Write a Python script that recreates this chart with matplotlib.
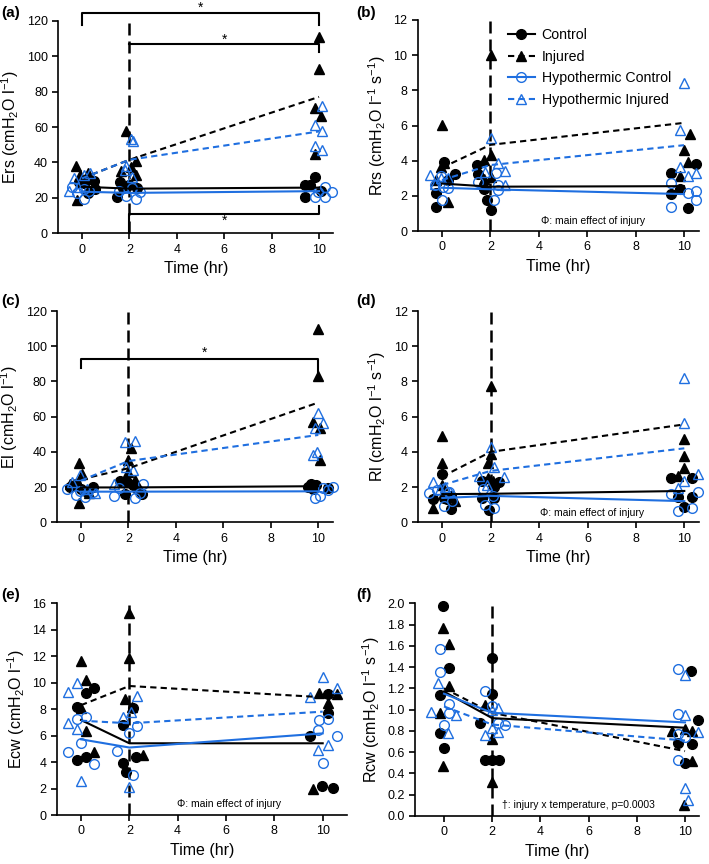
import matplotlib
matplotlib.use('Agg')
from matplotlib import pyplot as plt
from matplotlib.lines import Line2D
from matplotlib.ticker import FormatStrFormatter

plt.rcParams['font.family'] = ['Liberation Sans', 'DejaVu Sans']
plt.rcParams['mathtext.default'] = 'regular'

BLUE = '#1f6fe0'
times = [0, 2, 10]
group_names = ['Control', 'Injured', 'Hypothermic Control', 'Hypothermic Injured']

# ---- (a) Ers ----
ers_c_x = [-0.14, 0.07, 0.24, 0.52, 0.56, 1.46, 1.6, 1.75, 1.97, 2.32, 9.41, 9.41, 9.62, 9.83, 10.07]
ers_c_y = [29, 28.5, 22.5, 29.5, 25, 20.7, 29, 25.4, 27.3, 25.4, 27.3, 20.7, 27.3, 32, 24]
ers_c_mean = [26.3, 25.2, 25.8]
ers_i_x = [-0.24, -0.07, 0.24, -0.2, 0.1, 1.87, 1.64, 2.06, 2.29, 2.29, 10.0, 10.0, 9.83, 10.07, 9.83]
ers_i_y = [38, 33, 34, 19, 30, 57.5, 35.4, 37.6, 41, 33, 111, 92.5, 70.5, 66, 44.8]
ers_i_mean = [31, 41.5, 77]
ers_hc_x = [-0.42, -0.2, 0.07, 0.3, 0.1, 1.55, 1.85, 2.1, 2.29, 2.46, 9.83, 9.95, 10.25, 10.25, 10.53]
ers_hc_y = [26, 23, 19.5, 24, 25, 24, 21, 25.4, 19.4, 23.5, 20.7, 23.5, 26.3, 20.7, 23.5]
ers_hc_mean = [23.5, 22.8, 23.8]
ers_hi_x = [-0.55, -0.35, -0.15, 0.1, 0.35, 2.08, 2.15, 1.87, 1.83, 2.1, 10.11, 9.83, 10.11, 9.83, 10.11]
ers_hi_y = [24, 31, 26, 33, 34, 53, 52, 38, 36, 32, 72, 61, 57.5, 49.5, 47]
ers_hi_mean = [31, 41.5, 57.5]

# ---- (b) Rrs ----
rrs_c_x = [-0.23, -0.23, 0.08, 0.25, 0.52, 1.46, 1.49, 1.74, 1.87, 2.01, 9.48, 9.48, 9.82, 10.17, 10.51]
rrs_c_y = [1.35, 2.15, 3.9, 2.9, 3.25, 3.75, 3.22, 2.4, 1.76, 1.2, 3.28, 2.08, 2.37, 1.33, 3.8]
rrs_c_mean = [2.7, 2.52, 2.55]
rrs_i_x = [0.0, -0.23, 0.25, -0.05, 0.1, 2.01, 2.01, 1.74, 1.74, 2.01, 10.23, 10.0, 10.17, 9.82]
rrs_i_y = [6.05, 2.9, 1.67, 3.66, 3.85, 10.0, 4.3, 4.04, 2.95, 3.05, 5.5, 4.6, 3.9, 3.15]
rrs_i_mean = [3.6, 4.9, 6.15]
rrs_hc_x = [-0.3, -0.05, 0.05, 0.25, 0.02, 1.49, 2.25, 2.32, 2.15, 2.3, 9.48, 9.48, 10.17, 10.51, 10.51]
rrs_hc_y = [2.6, 3.1, 2.5, 2.43, 1.76, 2.8, 3.28, 2.33, 1.76, 2.6, 2.75, 1.35, 2.18, 2.3, 1.76]
rrs_hc_mean = [2.46, 2.37, 2.1]
rrs_hi_x = [-0.5, -0.3, -0.05, 0.25, 1.76, 2.01, 2.32, 2.59, 2.59, 10.0, 9.82, 9.82, 10.17, 10.51]
rrs_hi_y = [3.18, 2.7, 3.0, 3.0, 3.37, 5.27, 3.89, 3.43, 2.62, 8.4, 5.74, 3.66, 3.1, 3.28]
rrs_hi_mean = [2.9, 3.75, 4.88]

# ---- (c) El ----
el_c_x = [-0.46, -0.2, 0.0, 0.27, 0.49, 1.64, 1.85, 2.2, 2.35, 2.56, 1.95, 9.58, 9.79, 9.9, 9.7, 10.42]
el_c_y = [20.3, 21.6, 19, 17.4, 20.3, 23.5, 15.9, 21.2, 19, 15.9, 23, 20.3, 19, 21.2, 21.8, 19.3]
el_c_mean = [19.8, 19.8, 20.5]
el_i_x = [-0.07, 0.05, -0.07, -0.46, 0.35, 2.1, 1.97, 1.97, 2.27, 10.0, 10.0, 9.76, 10.07, 10.07]
el_i_y = [33.5, 27.3, 10.8, 21.6, 16.5, 42, 35.4, 28.8, 24, 109.8, 83.3, 56.8, 53.8, 35.4]
el_i_mean = [24.4, 30.7, 68]
el_hc_x = [-0.6, -0.21, 0.17, 0.52, -0.05, 1.4, 1.6, 2.27, 2.48, 2.62, 9.86, 10.07, 10.21, 10.63, 10.42]
el_hc_y = [19, 15.5, 14.6, 17.4, 17.8, 15.1, 19.7, 13.6, 16.5, 22, 13.6, 15.1, 19.3, 20.3, 18.4]
el_hc_mean = [17.4, 17.4, 17.6]
el_hi_x = [-0.39, -0.05, 0.27, 0.59, 1.85, 2.27, 1.38, 1.9, 2.2, 10.0, 9.76, 9.93, 9.86, 10.21]
el_hi_y = [23, 26.9, 19, 16.5, 45.8, 46.2, 22, 31.6, 29.7, 61.9, 38.2, 40.1, 53.4, 56.2]
el_hi_mean = [23.7, 34.8, 49.6]

# ---- (d) Rl ----
rl_c_x = [-0.37, 0.0, 0.05, 0.2, 0.35, 0.38, 1.62, 1.65, 1.93, 2.15, 2.15, 2.34, 9.45, 9.72, 10.0, 10.3, 10.3]
rl_c_y = [1.33, 2.75, 1.4, 1.35, 1.5, 0.75, 2.35, 1.36, 0.7, 2.03, 1.36, 2.3, 2.54, 1.46, 0.89, 2.54, 1.46]
rl_c_mean = [1.6, 1.62, 1.78]
rl_i_x = [0.0, 0.0, 0.0, -0.37, 0.52, 2.01, 2.01, 1.9, 1.88, 2.1, 10.0, 10.0, 10.0, 9.72]
rl_i_y = [4.92, 3.35, 2.12, 0.8, 1.2, 7.74, 3.86, 3.35, 2.5, 2.35, 4.73, 3.79, 3.1, 2.65]
rl_i_mean = [2.6, 4.0, 5.56]
rl_hc_x = [-0.55, -0.2, 0.05, 0.28, 0.4, 1.7, 1.75, 2.15, 2.1, 9.45, 9.72, 10.3, 10.58]
rl_hc_y = [1.65, 1.84, 0.9, 1.7, 1.2, 1.9, 0.98, 0.83, 1.5, 1.59, 0.64, 0.83, 1.74]
rl_hc_mean = [1.38, 1.5, 1.2]
rl_hi_x = [-0.37, -0.1, 0.3, 0.1, 2.01, 1.5, 1.85, 2.15, 2.57, 10.0, 10.0, 9.72, 10.0, 10.55]
rl_hi_y = [2.27, 1.9, 1.74, 2.0, 4.3, 2.65, 2.12, 3.16, 2.6, 8.18, 5.62, 1.97, 2.35, 2.73]
rl_hi_mean = [2.12, 2.92, 4.2]

# ---- (e) Ecw ----
ecw_c_x = [-0.18, 0.21, -0.15, 0.21, 0.55, 1.75, 1.86, 1.75, 2.17, 2.28, 9.48, 9.96, 10.41, 10.23, 10.23]
ecw_c_y = [4.16, 4.36, 8.14, 9.25, 9.57, 3.96, 3.28, 6.8, 8.06, 4.41, 5.97, 2.2, 2.02, 7.68, 9.15]
ecw_c_mean = [7.18, 5.42, 5.42]
ecw_i_x = [0.0, 0.21, 0.0, 0.21, 0.55, 2.0, 2.0, 1.82, 2.1, 2.58, 9.61, 9.86, 10.23, 10.58]
ecw_i_y = [11.66, 10.2, 8.06, 6.37, 4.79, 15.3, 11.84, 8.74, 8.19, 4.54, 1.94, 9.25, 8.44, 9.15]
ecw_i_mean = [8.3, 9.75, 8.9]
ecw_hc_x = [-0.52, 0.0, -0.15, 0.21, 0.55, 1.48, 2.0, 2.17, 2.3, 9.86, 10.0, 9.82, 10.23, 10.58]
ecw_hc_y = [4.79, 5.42, 7.23, 7.43, 3.85, 4.86, 6.17, 3.02, 6.73, 7.18, 3.9, 6.42, 7.23, 5.97]
ecw_hc_mean = [5.72, 5.1, 6.17]
ecw_hi_x = [-0.55, -0.52, -0.18, -0.15, 0.0, 1.75, 2.0, 2.3, 2.05, 9.48, 9.82, 10.0, 10.23, 10.58]
ecw_hi_y = [6.98, 9.32, 10.0, 6.47, 2.6, 7.43, 2.14, 9.0, 7.8, 8.9, 4.91, 10.4, 5.29, 9.57]
ecw_hi_mean = [7.13, 6.93, 7.81]

# ---- (f) Rcw ----
rcw_c_x = [-0.03, 0.2, -0.17, -0.17, 0.01, 1.49, 2.0, 2.0, 2.0, 1.71, 2.3, 9.71, 10.0, 10.28, 10.25, 10.53]
rcw_c_y = [1.97, 1.39, 1.14, 0.78, 0.64, 0.87, 1.49, 1.15, 0.53, 0.53, 0.53, 0.69, 0.5, 0.68, 1.36, 0.9]
rcw_c_mean = [1.17, 0.92, 0.83]
rcw_i_x = [-0.03, 0.2, 0.2, -0.17, -0.03, 1.72, 2.0, 2.0, 9.45, 10.0, 10.28, 10.28, 9.96]
rcw_i_y = [1.77, 1.62, 1.22, 0.97, 0.47, 1.04, 0.72, 0.32, 0.8, 0.82, 0.8, 0.52, 0.1]
rcw_i_mean = [1.2, 0.97, 0.61]
rcw_hc_x = [-0.17, -0.17, 0.2, 0.2, 0.01, 1.72, 2.0, 2.25, 2.52, 9.71, 9.71, 9.71, 9.71, 10.0]
rcw_hc_y = [1.57, 1.35, 1.05, 0.97, 0.86, 1.18, 1.03, 0.87, 0.86, 1.38, 0.96, 0.77, 0.53, 0.74]
rcw_hc_mean = [1.15, 0.97, 0.88]
rcw_hi_x = [-0.54, -0.26, 0.48, 0.18, 1.72, 2.0, 2.25, 2.0, 2.25, 10.0, 10.0, 10.0, 10.14, 10.55]
rcw_hi_y = [0.98, 1.25, 0.95, 0.78, 0.76, 1.0, 1.02, 0.83, 0.79, 1.33, 0.95, 0.26, 0.15, 0.79]
rcw_hi_mean = [1.03, 0.86, 0.71]

# styles: (colour, marker, filled, line style)
styles = [
    ('black', 'o', True, '-'),
    ('black', '^', True, (0, (3, 2))),
    (BLUE, 'o', False, '-'),
    (BLUE, '^', False, (0, (3, 2))),
]

W, H = 709, 864
fig = plt.figure(figsize=(W / 100, H / 100), dpi=100)


def make_axes(x0px, x10px, xlo, xhi, top_px, bot_px):
    ppu = (x10px - x0px) / 10.0
    left = x0px + xlo * ppu
    right = x0px + xhi * ppu
    ax = fig.add_axes([left / W, 1 - bot_px / H, (right - left) / W, (bot_px - top_px) / H])
    ax.set_xlim(xlo, xhi)
    return ax


def draw_panel(ax, groups, ymax, ystep, ylabel, label, label_pos):
    # injury time marker
    ax.axvline(2, color='black', lw=1.8, ls=(0, (4.8, 2.4)), zorder=1)
    for (gx, gy, gm), (col, mk, filled, ls) in zip(groups, styles):
        ax.plot(gx, gy, ls='none', marker=mk, ms=7.5 if mk == '^' else 7,
                mfc=col if filled else 'none', mec=col, mew=1.0, zorder=3, clip_on=False)
        ax.plot(times, gm, color=col, ls=ls, lw=1.5, zorder=4)
    ax.set_ylim(0, ymax)
    ax.set_yticks([ystep * k for k in range(int(round(ymax / ystep)) + 1)])
    ax.set_xticks([0, 2, 4, 6, 8, 10])
    for s in ['top', 'right']:
        ax.spines[s].set_visible(False)
    for s in ['left', 'bottom']:
        ax.spines[s].set_linewidth(1.2)
    ax.tick_params(direction='out', length=4, width=1.2, labelsize=9)
    ax.set_xlabel('Time (hr)', fontsize=11.5)
    ax.set_ylabel(ylabel, fontsize=11.5)
    fig.text(label_pos[0] / W, 1 - label_pos[1] / H, label, fontsize=11,
             fontweight='bold', va='center', ha='left')


def bracket(ax, x0, x1, y, y0, y1, sx, sy):
    ax.plot([x0, x0, x1, x1], [y0, y, y, y1], color='black', lw=1.5, clip_on=False, zorder=5)
    ax.text(sx, sy, '*', ha='center', va='center', fontsize=10, clip_on=False)


phi_text = '\u03a6: main effect of injury'

ax_a = make_axes(82, 319, -1, 10.6, 20.7, 233.3)
draw_panel(ax_a, [(ers_c_x, ers_c_y, ers_c_mean), (ers_i_x, ers_i_y, ers_i_mean),
                  (ers_hc_x, ers_hc_y, ers_hc_mean), (ers_hi_x, ers_hi_y, ers_hi_mean)],
           120, 20, 'Ers (cmH$_2$O l$^{-1}$)', '(a)', (1, 13))
bracket(ax_a, 0, 10, 124.5, 117.5, 117.5, 5.0, 127.5)
bracket(ax_a, 2, 10, 106.8, 106.8, 102.5, 6.0, 109.5)
bracket(ax_a, 2, 10, 10.9, 0, 15.4, 6.0, 7.2)

ax_b = make_axes(442, 684, -1, 10.6, 20, 231)
draw_panel(ax_b, [(rrs_c_x, rrs_c_y, rrs_c_mean), (rrs_i_x, rrs_i_y, rrs_i_mean),
                  (rrs_hc_x, rrs_hc_y, rrs_hc_mean), (rrs_hi_x, rrs_hi_y, rrs_hi_mean)],
           12, 2, 'Rrs (cmH$_2$O l$^{-1}$ s$^{-1}$)', '(b)', (356, 13))
ax_b.text(4.1, 0.57, phi_text, fontsize=7.5, va='center', ha='left')
handles = [Line2D([], [], color=c, ls=ls, lw=1.5, marker=m, ms=7 if m == 'o' else 7.5,
                  mfc=c if f else 'none', mec=c, mew=1.0)
           for c, m, f, ls in styles]
ax_b.legend(handles, group_names, loc='upper left', bbox_to_anchor=(0.32, 0.96),
            frameon=False, fontsize=10.2, handlelength=1.9, handletextpad=0.5,
            labelspacing=0.52, borderpad=0, borderaxespad=0)

ax_c = make_axes(81, 318.3, -1, 10.6, 311, 522.3)
draw_panel(ax_c, [(el_c_x, el_c_y, el_c_mean), (el_i_x, el_i_y, el_i_mean),
                  (el_hc_x, el_hc_y, el_hc_mean), (el_hi_x, el_hi_y, el_hi_mean)],
           120, 20, 'El (cmH$_2$O l$^{-1}$)', '(c)', (1, 301))
bracket(ax_c, 0, 10, 92.7, 87.5, 85.2, 5.2, 96.0)

ax_d = make_axes(442.3, 684.3, -1, 10.6, 311, 522.3)
draw_panel(ax_d, [(rl_c_x, rl_c_y, rl_c_mean), (rl_i_x, rl_i_y, rl_i_mean),
                  (rl_hc_x, rl_hc_y, rl_hc_mean), (rl_hi_x, rl_hi_y, rl_hi_mean)],
           12, 2, 'Rl (cmH$_2$O l$^{-1}$ s$^{-1}$)', '(d)', (356, 301))
ax_d.text(4.04, 0.5, phi_text, fontsize=7.5, va='center', ha='left')

ax_e = make_axes(81, 322.7, -1, 11.0, 603.3, 815)
draw_panel(ax_e, [(ecw_c_x, ecw_c_y, ecw_c_mean), (ecw_i_x, ecw_i_y, ecw_i_mean),
                  (ecw_hc_x, ecw_hc_y, ecw_hc_mean), (ecw_hi_x, ecw_hi_y, ecw_hi_mean)],
           16, 2, 'Ecw (cmH$_2$O l$^{-1}$)', '(e)', (1, 595))
ax_e.text(3.96, 0.8, phi_text, fontsize=7.5, va='center', ha='left')

ax_f = make_axes(444, 685, -1.2, 10.6, 603.3, 816)
draw_panel(ax_f, [(rcw_c_x, rcw_c_y, rcw_c_mean), (rcw_i_x, rcw_i_y, rcw_i_mean),
                  (rcw_hc_x, rcw_hc_y, rcw_hc_mean), (rcw_hi_x, rcw_hi_y, rcw_hi_mean)],
           2.0, 0.2, 'Rcw (cmH$_2$O l$^{-1}$ s$^{-1}$)', '(f)', (356, 595))
ax_f.yaxis.set_major_formatter(FormatStrFormatter('%.1f'))
ax_f.text(2.4, 0.1, '\u2020: injury x temperature, p=0.0003', fontsize=7.5, va='center', ha='left')

fig.savefig('out.png', dpi=100)
